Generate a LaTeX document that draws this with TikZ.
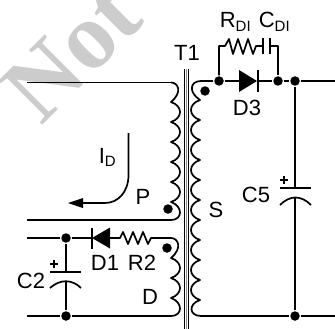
\documentclass[tikz,border=0pt]{standalone}
\usepackage{fontspec}
\setmainfont{Liberation Sans}
\newfontfamily\markfont{Liberation Serif}
\usetikzlibrary{arrows}
\newcommand{\lowtxt}[1]{\raisebox{-3.5pt}{\fontsize{15}{15}\selectfont #1}}

\begin{document}
\begin{tikzpicture}[x=1pt,y=-1pt,line width=1.7pt,line join=round,
    dot node/.style={circle,fill=black,inner sep=0pt,minimum size=9.5pt},
    lab node/.style={inner sep=0pt,font=\fontsize{22}{24}\selectfont},
    coil/.style={line width=1.7pt}]
\useasboundingbox (0,0) rectangle (335,329);

% watermark
\begin{scope}
\clip (0,0) rectangle (335,329);
\node[rotate=45,anchor=base west,text=black!20,inner sep=0pt,font=\fontsize{95}{95}\selectfont\markfont\bfseries] (mark) at (41,127) {Not};
\end{scope}

% core
\draw[line width=1pt] (184.5,69) -- (184.5,329);
\draw[line width=1pt] (188,69) -- (188,329);
\draw[line width=1.2pt,black!45] (186.2,69) -- (186.2,329);

% windings
\coordinate (ptop) at (171,82.5);
\coordinate (pbot) at (171,220);
\coordinate (dtop) at (171,238);
\coordinate (dbot) at (171,316);
\coordinate (stop) at (201,81);
\coordinate (sbot) at (201,316);

\draw[coil] (ptop) .. controls (178,82.5) and (183,92) .. (171,102)
  foreach \y in {102,122,142,162,182} { .. controls (183,\y+4) and (183,\y+16) .. (171,\y+20) }
  .. controls (183,206) and (183,220) .. (pbot);
\draw[coil] (dtop) .. controls (178,238) and (183,248) .. (171,258)
  foreach \y in {258,278} { .. controls (183,\y+4) and (183,\y+16) .. (171,\y+20) }
  .. controls (183,302) and (183,316) .. (dbot);
\draw[coil] (stop) .. controls (190,81) and (188,92) .. (200,100)
  foreach \y in {100,120,140,160,180,200,220,240,260,280} { .. controls (188,\y+4) and (188,\y+16) .. (200,\y+20) }
  .. controls (188,304) and (189,316) .. (sbot);

% phase dots
\node[dot node] (sdot) at (205,91) {};
\node[dot node] (pdot) at (168,209) {};
\node[dot node] (ddot) at (167,248) {};

% junctions
\node[dot node] (j1) at (219,81) {};
\node[dot node] (j2) at (278,81) {};
\node[dot node] (j3) at (295,81) {};
\node[dot node] (j4) at (295,316) {};
\node[dot node] (j5) at (66,238) {};
\node[dot node] (j6) at (66,316) {};
\coordinate (top left) at (27,82.5);
\coordinate (mid left) at (27,220);
\coordinate (aux left) at (27,238);
\coordinate (bot left) at (27,316);
\coordinate (out top) at (335,81);
\coordinate (out bot) at (335,316);

% left wires
\draw (top left) -- (ptop);
\draw (mid left) -- (pbot);
\draw (bot left) -- (j6) -- (dbot);
\draw (aux left) -- (j5) -- (92,238);
\draw (110,238) -- (120,238) -- (123,232) -- (128,244) -- (133,232) -- (138,244) -- (143,232) -- (148,244) -- (151,238) -- (dtop);

% D1
\fill (92,238) -- (110,227.5) -- (110,248.5) -- cycle;
\draw (92,227.5) -- (92,248.5);

% C2
\draw (j5) -- (66,272);
\draw (50,272) -- (81,272);
\draw (50,288) .. controls (60,279) and (72,279) .. (81,288);
\draw (66,282) -- (j6);
\draw[line width=1.2pt] (50,264) -- (58,264) (54,260) -- (54,268);

% top right
\draw (stop) -- (j1) -- (239,81);
\draw (257,81) -- (j2) -- (j3) -- (out top);
\fill (239,70) -- (257,81) -- (239,92) -- cycle;
\draw (258,70) -- (258,92);
\draw (j1) -- (219,46) -- (225,46) -- (229,39) -- (233,54) -- (238,39) -- (243,54) -- (248,39) -- (253,54) -- (256,46) -- (263,46);
\draw (263,38) -- (263,54);
\draw (270,38) -- (270,54);
\draw (270,46) -- (278,46) -- (j2);

% C5
\draw (j3) -- (295,188);
\draw (280,188) -- (311,188);
\draw (280,205) .. controls (290,195) and (301,195) .. (311,205);
\draw (295,198) -- (j4);
\draw[line width=1.2pt] (280,180) -- (288,180) (284,176) -- (284,184);
\draw (sbot) -- (j4) -- (out bot);

% current arrow
\draw (128.5,133) -- (128.5,175) .. controls (128.5,192) and (118,203) .. (105,203) -- (80,203);
\fill (68,203) -- (83,198) -- (83,208) -- cycle;

% labels
\node[lab node] (t1) at (187,53) {T1};
\node[lab node] (d3) at (247,108) {D3};
\node[lab node] (s) at (216,210) {S};
\node[lab node] (c5) at (256,195) {C5};
\node[lab node] (p) at (143,197) {P};
\node[lab node] (d) at (150,297) {D};
\node[lab node] (d1) at (105,263) {D1};
\node[lab node] (r2) at (142,263) {R2};
\node[lab node] (c2) at (31,281) {C2};
\node[lab node,anchor=base west] (id) at (98,163) {I\lowtxt{D}};
\node[lab node,anchor=base west] (rdi) at (219,28) {R\lowtxt{DI}};
\node[lab node,anchor=base west] (cdi) at (258,28) {C\lowtxt{DI}};
\end{tikzpicture}
\end{document}
